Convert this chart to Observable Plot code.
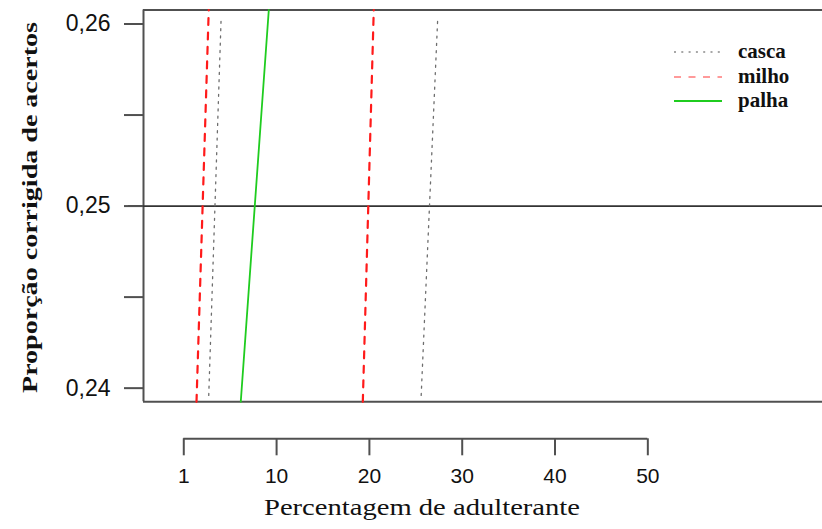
<!DOCTYPE html>
<html><head><meta charset="utf-8">
<script src="https://cdn.jsdelivr.net/npm/d3@7"></script>
<script src="https://cdn.jsdelivr.net/npm/@observablehq/plot@0.6"></script>
<style>
body{margin:0;background:#fff;}
#wrap{position:relative;width:822px;height:529px;overflow:hidden;}
#legend{position:absolute;left:674px;top:40px;font-family:"Liberation Serif",serif;font-weight:bold;font-size:21px;color:#111;}
#legend .row{position:relative;height:24.5px;}
#legend svg{position:absolute;left:0;top:0;}
#legend span{position:absolute;left:64px;top:-1px;line-height:24px;}
</style></head><body><div id="wrap"></div>
<script>
// legend / series
const series = ["casca", "milho", "palha"];
const seriesColors = ["#6e6e6e", "#ff1a1a", "#1fcc1f"];
const seriesDash = ["2,5.3", "7,7.5", null];
const legendColors = ["#8a8a8a", "#ff9a9a", "#1fcc1f"];
const seriesWidth = [1.3, 2.2, 1.8];

// line readings (each line: x at a low y, x at a high y)
const lineSeries = ["casca", "casca", "milho", "milho", "palha"];
const lineId = ["casca-1", "casca-2", "milho-1", "milho-2", "palha-1"];
const lineYLow = [0.2396, 0.2396, 0.23925, 0.23925, 0.23925];
const lineXLow = [2.69, 25.58, 1.37, 19.29, 6.14];
const lineYHigh = [0.26041, 0.26041, 0.26077, 0.26077, 0.26077];
const lineXHigh = [4.03, 27.37, 2.69, 20.47, 9.16];

const hLine = [0.25];

// axes
const xDomain = [-4.34, 68.82];
const yDomain = [0.23925, 0.26077];
const xTicks = [0, 10, 20, 30, 40, 50];
const xTickLabels = ["1", "10", "20", "30", "40", "50"];
const yTicks = [0.24, 0.245, 0.25, 0.255, 0.26];
const yTickLabels = ["0,24", "", "0,25", "", "0,26"];
const xTitle = "Percentagem de adulterante";
const yTitle = "Proporção corrigida de acertos";

const rows = [];
lineId.forEach((id, i) => {
  rows.push({id, series: lineSeries[i], x: lineXLow[i], y: lineYLow[i]});
  rows.push({id, series: lineSeries[i], x: lineXHigh[i], y: lineYHigh[i]});
});

const frameColor = "#505050";
const serif = "Liberation Serif, Times New Roman, serif";
const plot = Plot.plot({
  width: 822,
  height: 529,
  marginLeft: 143,
  marginRight: 0,
  marginTop: 9.5,
  marginBottom: 127.7,
  style: {background: "#fff", color: "#111"},
  x: {domain: xDomain, axis: null},
  y: {domain: yDomain, axis: null},
  marks: [
    Plot.ruleX([xDomain[0]], {stroke: frameColor, strokeWidth: 2}),
    Plot.ruleY([yDomain[0], yDomain[1]], {stroke: frameColor, strokeWidth: 2}),
    Plot.ruleY(hLine, {stroke: "#333", strokeWidth: 1.6, insetLeft: -15}),
    ...series.map((s, i) => Plot.line(rows.filter(r => r.series === s), {
      x: "x", y: "y", z: "id",
      stroke: seriesColors[i], strokeWidth: seriesWidth[i],
      strokeDasharray: seriesDash[i] || undefined
    })),
    Plot.axisY({
      ticks: yTicks, tickFormat: d => yTickLabels[yTicks.indexOf(d)],
      tickSize: 19, tickPadding: 14, fontSize: 23, fontFamily: "Liberation Sans, Arial",
      stroke: frameColor, strokeWidth: 2, label: null
    }),
    Plot.ruleY([yDomain[0]], {x1: xTicks[0], x2: xTicks[xTicks.length - 1], dy: 37, stroke: frameColor, strokeWidth: 2}),
    Plot.axisX({
      ticks: xTicks, tickFormat: d => xTickLabels[xTicks.indexOf(d)],
      tickSize: 17, tickPadding: 12, dy: 37, fontSize: 21, fontFamily: "Liberation Sans, Arial",
      stroke: frameColor, strokeWidth: 2, label: null
    }),
    Plot.text([xTitle], {frameAnchor: "bottom", dx: -61, dy: 113, fontSize: 23,
      fontFamily: serif, fill: "#111", textAnchor: "middle"}),
    Plot.text([yTitle], {frameAnchor: "left", rotate: -90, dx: -113, dy: 1.6, fontSize: 21, fontWeight: "bold",
      fontFamily: serif, fill: "#111", textAnchor: "middle"})
  ]
});
const wrap = document.getElementById("wrap");
wrap.appendChild(plot);

// stretch the serif titles to the reference widths
d3.select(plot).selectAll("text").each(function() {
  const t = this.textContent;
  if (t === xTitle) d3.select(this).attr("textLength", 316).attr("lengthAdjust", "spacingAndGlyphs");
  if (t === yTitle) d3.select(this).attr("textLength", 371).attr("lengthAdjust", "spacingAndGlyphs");
});

// legend
const legend = d3.select(wrap).append("div").attr("id", "legend");
series.forEach((s, i) => {
  const row = legend.append("div").attr("class", "row");
  const svg = row.append("svg").attr("width", 50).attr("height", 24);
  svg.append("line").attr("x1", 0).attr("x2", 48).attr("y1", 12).attr("y2", 12)
    .attr("stroke", legendColors[i]).attr("stroke-width", i === 0 ? 1.6 : 2)
    .attr("stroke-dasharray", seriesDash[i] || null);
  row.append("span").text(s);
});
</script></body></html>
